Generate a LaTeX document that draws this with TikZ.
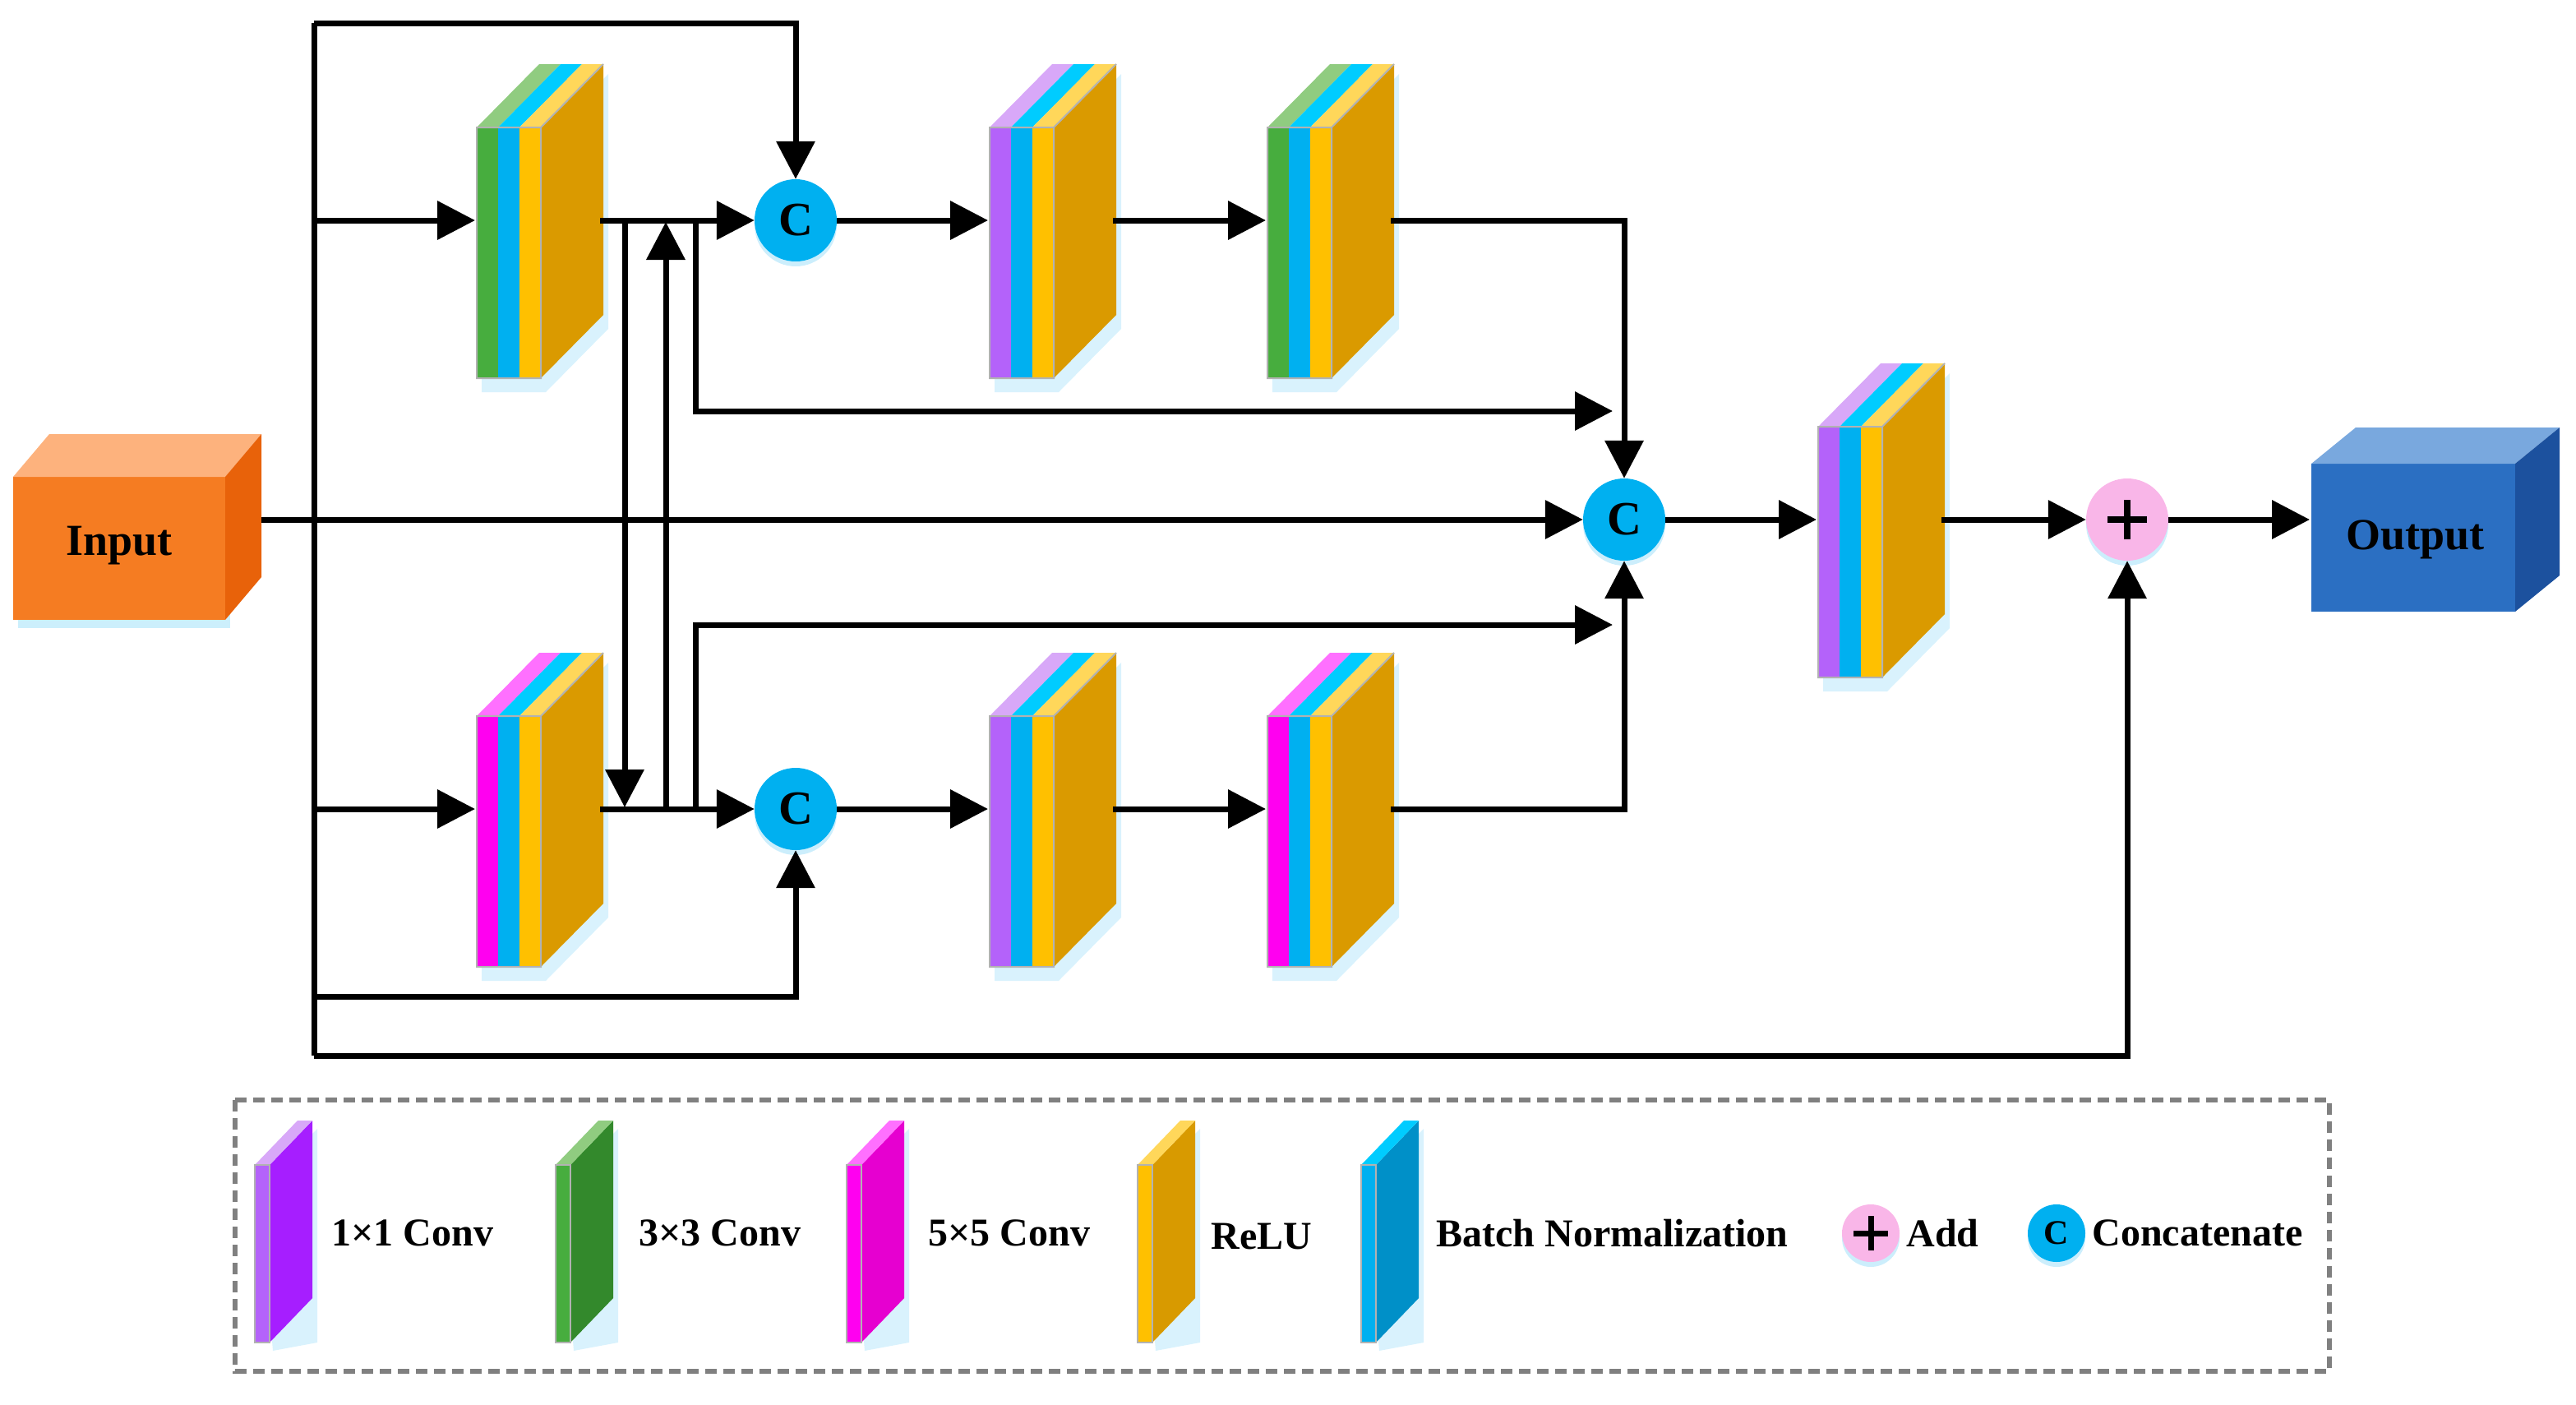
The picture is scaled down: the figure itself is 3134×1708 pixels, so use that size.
\documentclass[tikz,border=0pt]{standalone}
\usepackage{fontspec}
\setmainfont{Liberation Serif}
\usetikzlibrary{arrows.meta,shadows}
\definecolor{cG}{HTML}{47AD3E}\definecolor{cGt}{HTML}{90CC80}
\definecolor{cB}{HTML}{00B0F0}\definecolor{cBt}{HTML}{00CCFF}
\definecolor{cY}{HTML}{FFC000}\definecolor{cYt}{HTML}{FFD75A}
\definecolor{cS}{HTML}{DA9A00}
\definecolor{cP}{HTML}{B462FA}\definecolor{cPt}{HTML}{D8A8F8}
\definecolor{cM}{HTML}{FF00F0}\definecolor{cMt}{HTML}{FF70FF}
\definecolor{cBlue}{HTML}{00B0F0}\definecolor{cPink}{HTML}{F9B6E8}
\definecolor{inF}{HTML}{F57C22}\definecolor{inT}{HTML}{FDB27D}\definecolor{inS}{HTML}{E8620A}
\definecolor{outF}{HTML}{2B6FC2}\definecolor{outT}{HTML}{79A8DE}\definecolor{outS}{HTML}{1C519E}
\definecolor{lP}{HTML}{A61EFF}\definecolor{lG}{HTML}{33892C}\definecolor{lM}{HTML}{E600D0}
\definecolor{lY}{HTML}{D89A00}\definecolor{lB}{HTML}{0090C8}
\tikzset{
 wire/.style={line width=7pt,draw=black},
 arr/.style={wire,-{Triangle[length=46pt,width=46pt]}},
 cat/.style={circle,fill=cBlue,minimum size=100pt,inner sep=0pt,font=\fontsize{58}{60}\selectfont\bfseries,drop shadow={shadow xshift=0pt,shadow yshift=-6pt,fill=cyan!40,opacity=.5}},
 add/.style={circle,fill=cPink,minimum size=100pt,inner sep=0pt,drop shadow={shadow xshift=0pt,shadow yshift=-6pt,fill=cyan!40,opacity=.5}},
 lab/.style={font=\fontsize{48}{56}\selectfont\bfseries,anchor=west},
}
\newcommand{\plusmark}[2]{\draw[line width=#2pt] ($(#1)+(-#2*3,0)$) -- ($(#1)+(#2*3,0)$) ($(#1)+(0,-#2*3)$) -- ($(#1)+(0,#2*3)$);}
\usetikzlibrary{calc}
\newcommand{\blk}[5]{%
 \begin{scope}[shift={(#2,#3)}]
  \fill[cyan!25,opacity=.6] (6,12)--(84,12)--(160,-65)--(160,245)--(84,322)--(6,322)--cycle;
  \fill[#4] (0,0) rectangle (26,305);
  \fill[cB] (26,0) rectangle (52,305);
  \fill[cY] (52,0) rectangle (78,305);
  \fill[#5] (0,0)--(26,0)--(102,-77)--(76,-77)--cycle;
  \fill[cBt] (26,0)--(52,0)--(128,-77)--(102,-77)--cycle;
  \fill[cYt] (52,0)--(78,0)--(154,-77)--(128,-77)--cycle;
  \fill[cS] (78,0)--(154,-77)--(154,228)--(78,305)--cycle;
  \draw[gray!60,line width=2pt] (0,0) rectangle (78,305) (78,0)--(154,-77);
  \coordinate (#1i) at (-2,113);
  \coordinate (#1o) at (150,113);
 \end{scope}}
\newcommand{\slab}[4]{%
 \begin{scope}[shift={(#1,1417)}]
  \fill[cyan!25,opacity=.6] (4,10)--(22,10)--(76,-44)--(76,216)--(22,226)--cycle;
  \fill[#2] (0,0) rectangle (18,216);
  \fill[#3] (18,0)--(70,-54)--(70,162)--(18,216)--cycle;
  \fill[#4] (0,0)--(18,0)--(70,-54)--(52,-54)--cycle;
  \draw[gray!60,line width=2pt] (0,0) rectangle (18,216);
 \end{scope}}
\begin{document}
\begin{tikzpicture}[x=1pt,y=-1pt]
\useasboundingbox (0,0) rectangle (3134,1708);
\fill[cyan!20] (22,600) rectangle (280,764);
\fill[inF] (16,580) rectangle (274,754);
\fill[inT] (16,580)--(60,528)--(318,528)--(274,580)--cycle;
\fill[inS] (274,580)--(318,528)--(318,702)--(274,754)--cycle;
\node[font=\fontsize{54}{60}\selectfont\bfseries] (input) at (145,664) {Input};
\coordinate (ino) at (318,632);
\fill[outF] (2812,564) rectangle (3060,744);
\fill[outT] (2812,564)--(2866,520)--(3114,520)--(3060,564)--cycle;
\fill[outS] (3060,564)--(3114,520)--(3114,700)--(3060,744)--cycle;
\node[font=\fontsize{54}{60}\selectfont\bfseries] (output) at (2938,656) {Output};
\coordinate (outi) at (2810,632);
\blk{b1}{580}{155}{cG}{cGt}
\blk{b2}{1204}{155}{cP}{cPt}
\blk{b3}{1542}{155}{cG}{cGt}
\blk{b4}{580}{871}{cM}{cMt}
\blk{b5}{1204}{871}{cP}{cPt}
\blk{b6}{1542}{871}{cM}{cMt}
\blk{b7}{2212}{519}{cP}{cPt}
\node[cat] (c1) at (968,268) {C};
\node[cat] (c2) at (968,984) {C};
\node[cat] (c3) at (1976,632) {C};
\node[add] (p) at (2588,632) {};
\plusmark{p}{8}
\coordinate (bt) at (382,28);
\coordinate (bb) at (382,1284);
\draw[wire] (bt) -- (bb);
\draw[arr] (bt) -| (c1.north);
\draw[arr] (382,268) -- (b1i);
\draw[arr] (382,984) -- (b4i);
\draw[arr] (382,1212) -| (c2.south);
\draw[arr] (bb) -| (p.south);
\draw[arr] (ino) -- (c3.west);
\draw[arr] (b1o) -- (c1.west);
\draw[arr] (760,268) -- (760,982);
\draw[arr] (810,984) -- (810,270);
\draw[arr] (846,268) -- (846,500) -- (1962,500);
\draw[arr] (846,984) -- (846,760) -- (1962,760);
\draw[arr] (b4o) -- (c2.west);
\draw[arr] (c1.east) -- (b2i);
\draw[arr] (b2o) -- (b3i);
\draw[arr] (c2.east) -- (b5i);
\draw[arr] (b5o) -- (b6i);
\draw[arr] (b3o) -| (c3.north);
\draw[arr] (b6o) -| (c3.south);
\draw[arr] (c3.east) -- (b7i);
\draw[arr] (b7o) -- (p.west);
\draw[arr] (p.east) -- (outi);
\draw[line width=6pt,draw=gray,dash pattern=on 14pt off 8pt] (286,1338) rectangle (2834,1668);
\slab{310}{cP}{lP}{cPt}
\slab{676}{cG}{lG}{cGt}
\slab{1030}{cM}{lM}{cMt}
\slab{1384}{cY}{lY}{cYt}
\slab{1656}{cB}{lB}{cBt}
\node[lab] (l1) at (400,1500) {1×1 Conv};
\node[lab] (l2) at (774,1500) {3×3 Conv};
\node[lab] (l3) at (1126,1500) {5×5 Conv};
\node[lab] (l4) at (1470,1504) {ReLU};
\node[lab] (l5) at (1744,1500) {Batch Normalization};
\node[add,minimum size=70pt] (lp) at (2276,1500) {};
\plusmark{lp}{7}
\node[lab] (l6) at (2316,1500) {Add};
\node[cat,minimum size=70pt,font=\fontsize{42}{46}\selectfont\bfseries] (lc) at (2502,1500) {C};
\node[lab] (l7) at (2542,1500) {Concatenate};
\end{tikzpicture}
\end{document}
